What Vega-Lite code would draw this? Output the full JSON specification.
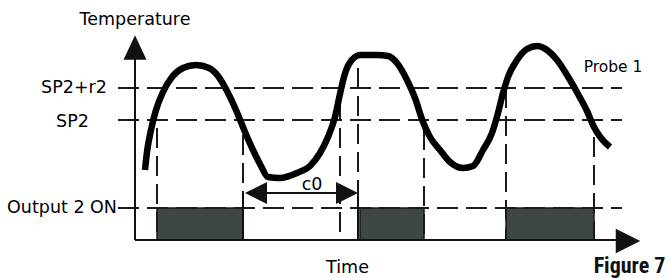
{
  "$schema": "https://vega.github.io/schema/vega-lite/v6.json",
  "width": 670,
  "height": 278,
  "autosize": {"type": "fit", "contains": "padding"},
  "padding": 0,
  "background": "white",
  "config": {"view": {"stroke": null}},
  "datasets": {
    "curve": [
      {"x":145,"y":170},{"x":147,"y":152},{"x":151,"y":130},{"x":156,"y":110},{"x":163,"y":92},{"x":172,"y":77},{"x":183,"y":68},{"x":196,"y":65},{"x":209,"y":68},{"x":218,"y":76},{"x":227,"y":91},{"x":236,"y":110},{"x":245,"y":132},{"x":253,"y":150},{"x":261,"y":166},{"x":268,"y":177},{"x":280,"y":178},{"x":297,"y":173},{"x":310,"y":166},{"x":320,"y":153},{"x":328,"y":137},{"x":335,"y":117},{"x":340,"y":94},{"x":344,"y":77},{"x":349,"y":64},{"x":360,"y":55},{"x":377,"y":55},{"x":388,"y":56},{"x":397,"y":63},{"x":407,"y":80},{"x":415,"y":98},{"x":423,"y":122},{"x":430,"y":137},{"x":440,"y":150},{"x":450,"y":162},{"x":463,"y":168},{"x":473,"y":166},{"x":483,"y":150},{"x":492,"y":133},{"x":498,"y":113},{"x":503,"y":93},{"x":508,"y":77},{"x":517,"y":60},{"x":527,"y":49},{"x":537,"y":46},{"x":547,"y":50},{"x":557,"y":60},{"x":570,"y":80},{"x":578,"y":94},{"x":587,"y":111},{"x":594,"y":127},{"x":601,"y":138},{"x":610,"y":147}
    ],
    "outputOn": [
      {"x":157,"x2":243,"y":208,"y2":240},
      {"x":360,"x2":424,"y":208,"y2":240},
      {"x":506,"x2":594,"y":208,"y2":240}
    ],
    "levels": [
      {"x":118,"x2":622,"y":88},
      {"x":118,"x2":622,"y":120},
      {"x":118,"x2":622,"y":208}
    ],
    "switches": [
      {"x":157,"y":128,"y2":240},
      {"x":243,"y":135,"y2":240},
      {"x":340,"y":100,"y2":240},
      {"x":358,"y":68,"y2":240},
      {"x":424,"y":130,"y2":240},
      {"x":506,"y":88,"y2":240},
      {"x":594,"y":137,"y2":240}
    ],
    "solidV": [
      {"x":135,"y":58,"y2":240},
      {"x":243,"y":193,"y2":240},
      {"x":358,"y":193,"y2":240}
    ],
    "solidH": [
      {"x":135,"x2":620,"y":240},
      {"x":250,"x2":350,"y":193}
    ],
    "axisArrows": [
      {"x":135,"y":47.5,"dir":"up"},
      {"x":628,"y":241,"dir":"right"}
    ],
    "c0Arrows": [
      {"x":256,"y":193,"dir":"left"},
      {"x":347,"y":193,"dir":"right"}
    ],
    "labels": [
      {"x":135,"y":25,"text":"Temperature"},
      {"x":74,"y":92.5,"text":"SP2+r2"},
      {"x":72.5,"y":127,"text":"SP2"},
      {"x":62,"y":213,"text":"Output 2 ON"},
      {"x":347.5,"y":273,"text":"Time"},
      {"x":312,"y":190,"text":"c0"}
    ],
    "probe": [{"x":613,"y":72,"text":"Probe 1"}],
    "figure": [{"x":629.5,"y":273,"text":"Figure 7"}]
  },
  "encoding": {
    "x": {"field": "x", "type": "quantitative", "scale": {"domain": [0, 670], "nice": false, "zero": false}, "axis": null},
    "y": {"field": "y", "type": "quantitative", "scale": {"domain": [0, 278], "nice": false, "zero": false, "reverse": true}, "axis": null}
  },
  "layer": [
    {
      "data": {"name": "outputOn"},
      "mark": {"type": "rect", "fill": "#3d4744", "stroke": "#1a1a1a", "strokeWidth": 1.5},
      "encoding": {"x2": {"field": "x2"}, "y2": {"field": "y2"}}
    },
    {
      "data": {"name": "levels"},
      "mark": {"type": "rule", "color": "#1a1a1a", "strokeWidth": 2, "strokeDash": [21, 8]},
      "encoding": {"x2": {"field": "x2"}}
    },
    {
      "data": {"name": "switches"},
      "mark": {"type": "rule", "color": "#1a1a1a", "strokeWidth": 2, "strokeDash": [20, 8]},
      "encoding": {"y2": {"field": "y2"}}
    },
    {
      "data": {"name": "solidV"},
      "mark": {"type": "rule", "color": "#111", "strokeWidth": 2},
      "encoding": {"y2": {"field": "y2"}}
    },
    {
      "data": {"name": "solidH"},
      "mark": {"type": "rule", "color": "#111", "strokeWidth": 2.2},
      "encoding": {"x2": {"field": "x2"}}
    },
    {
      "data": {"name": "axisArrows"},
      "mark": {"type": "point", "filled": true, "opacity": 1, "color": "#111", "size": 600},
      "encoding": {
        "shape": {"field": "dir", "type": "nominal", "legend": null,
          "scale": {"domain": ["up", "right", "left"], "range": ["M0,-1L0.94,1L-0.94,1Z", "M1,0L-1,-1L-1,1Z", "M-1,0L1,-1L1,1Z"]}}
      }
    },
    {
      "data": {"name": "c0Arrows"},
      "mark": {"type": "point", "filled": true, "opacity": 1, "color": "#111", "size": 484},
      "encoding": {
        "shape": {"field": "dir", "type": "nominal", "legend": null,
          "scale": {"domain": ["up", "right", "left"], "range": ["M0,-1L0.94,1L-0.94,1Z", "M1,0L-1,-1L-1,1Z", "M-1,0L1,-1L1,1Z"]}}
      }
    },
    {
      "data": {"name": "curve"},
      "mark": {"type": "line", "color": "#000", "strokeWidth": 6.5, "interpolate": "monotone", "strokeCap": "butt", "strokeJoin": "round"}
    },
    {
      "data": {"name": "labels"},
      "mark": {"type": "text", "font": "DejaVu Sans", "fontSize": 17.5, "color": "#000", "align": "center", "baseline": "alphabetic"},
      "encoding": {"text": {"field": "text"}}
    },
    {
      "data": {"name": "probe"},
      "mark": {"type": "text", "font": "DejaVu Sans", "fontSize": 15.5, "color": "#000", "align": "center", "baseline": "alphabetic"},
      "encoding": {"text": {"field": "text"}}
    },
    {
      "data": {"name": "figure"},
      "mark": {"type": "text", "font": "Liberation Sans Narrow, Roboto Condensed, Roboto", "fontWeight": "bold", "fontSize": 22, "color": "#111", "align": "center", "baseline": "alphabetic"},
      "encoding": {"text": {"field": "text"}}
    }
  ]
}
